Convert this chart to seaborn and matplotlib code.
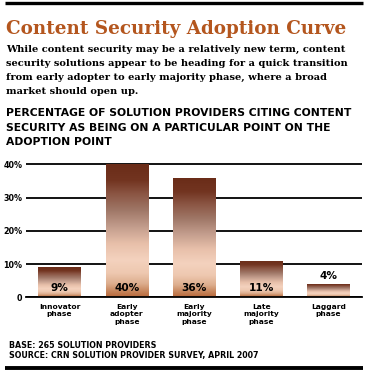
import matplotlib
matplotlib.use("Agg")
import matplotlib.pyplot as plt
import seaborn as sns
import numpy as np
import pandas as pd
from matplotlib.colors import LinearSegmentedColormap
from matplotlib.lines import Line2D

# ---- data ----
categories = ["Innovator\nphase", "Early\nadopter\nphase", "Early\nmajority\nphase",
              "Late\nmajority\nphase", "Laggard\nphase"]
values = [9, 40, 36, 11, 4]
value_labels = ["9%", "40%", "36%", "11%", "4%"]
ytick_values = [0, 10, 20, 30, 40]
ytick_labels = ["0", "10%", "20%", "30%", "40%"]

title = "Content Security Adoption Curve"
subtitle_lines = [
    "While content security may be a relatively new term, content",
    "security solutions appear to be heading for a quick transition",
    "from early adopter to early majority phase, where a broad",
    "market should open up.",
]
chart_title_lines = [
    "PERCENTAGE OF SOLUTION PROVIDERS CITING CONTENT",
    "SECURITY AS BEING ON A PARTICULAR POINT ON THE",
    "ADOPTION POINT",
]
footer_lines = [
    "BASE: 265 SOLUTION PROVIDERS",
    "SOURCE: CRN SOLUTION PROVIDER SURVEY, APRIL 2007",
]

df = pd.DataFrame({"phase": categories, "pct": values})

W, H = 378, 377
sns.set_theme(style="white")
plt.rcParams["font.family"] = ["DejaVu Sans"]

fig = plt.figure(figsize=(W / 100, H / 100), dpi=100)
fig.patch.set_facecolor("white")


def fx(px):
    return px / W


def fy(py):
    return 1 - py / H


renderer = fig.canvas.get_renderer()


def measure(s, **kw):
    t = fig.text(0, 0, s, fontsize=10, **kw)
    w = t.get_window_extent(renderer=renderer).width
    t.remove()
    return w


# rules
fig.add_artist(Line2D([fx(5), fx(362.5)], [fy(3.3), fy(3.3)], color="black", lw=2.4,
                      transform=fig.transFigure, solid_capstyle="butt"))
fig.add_artist(Line2D([fx(5), fx(362.5)], [fy(367.5), fy(367.5)], color="black", lw=2.8,
                      transform=fig.transFigure, solid_capstyle="butt"))

# title
serif = ["DejaVu Serif"]
tfs = 10 * 340 / measure(title, fontweight="heavy", family=serif)
fig.text(fx(6.5), fy(34.3), title, va="baseline", ha="left", fontsize=tfs,
         fontweight="heavy", family=serif, color="#B4561E")

# subtitle
sub_fs = 10 * 342 / measure(subtitle_lines[1], fontweight="bold", family=serif)
for s, b in zip(subtitle_lines, [51.5, 65.5, 79.5, 93.5]):
    fig.text(fx(6.5), fy(b), s, va="baseline", ha="left", fontsize=sub_fs,
             fontweight="bold", family=serif, color="black")

# chart title
ct_fs = 10 * 345 / measure(chart_title_lines[0], fontweight="bold")
for s, b in zip(chart_title_lines, [116, 130.7, 145.3]):
    fig.text(fx(6.5), fy(b), s, va="baseline", ha="left", fontsize=ct_fs,
             fontweight="bold", color="black")

# footer
ft_fs = 10 * 248 / measure(footer_lines[1], fontweight="bold")
for s, b in zip(footer_lines, [347.7, 357.7]):
    fig.text(fx(9), fy(b), s, va="baseline", ha="left", fontsize=ft_fs,
             fontweight="bold", color="black")

# axes
y_top = 40.5
ppu = 133 / 40.0
top_px = 297.3 - y_top * ppu
ax = fig.add_axes([fx(26), fy(297.3), fx(362) - fx(26), (297.3 - top_px) / H])
ax.set_facecolor("white")

sns.barplot(data=df, x="phase", y="pct", ax=ax, color="#B07050", width=0.63,
            saturation=1, zorder=3)

stops = [
    (0.00, "#B96A3C"),
    (0.04, "#C6845A"),
    (0.10, "#DDAE8E"),
    (0.18, "#EEC8B0"),
    (0.28, "#F4D2BE"),
    (0.40, "#E8C0AA"),
    (0.53, "#C29C8C"),
    (0.65, "#A07868"),
    (0.78, "#8A5442"),
    (0.88, "#723420"),
    (1.00, "#6A2C18"),
]
cmap = LinearSegmentedColormap.from_list("bar", stops)
grad = np.linspace(0, 1, 256).reshape(-1, 1)
for p in ax.patches:
    x0, y0 = p.get_x(), p.get_y()
    w, h = p.get_width(), p.get_height()
    p.set_facecolor("none")
    p.set_edgecolor("none")
    im = ax.imshow(grad, cmap=cmap, origin="lower", aspect="auto",
                   extent=[x0, x0 + w, y0, y0 + h], zorder=3, interpolation="bilinear")
    im.set_clip_path(p)
ax.set_xlim(-0.5, len(categories) - 0.5)
ax.set_ylim(0, y_top)

for i, (v, lab) in enumerate(zip(values, value_labels)):
    ypos = 2.8 if v >= 8 else v + 2.4
    ax.text(i, ypos, lab, ha="center", va="center", fontsize=7.6,
            fontweight="bold", color="black", zorder=5)

ax.set_yticks(ytick_values)
ax.set_yticklabels(ytick_labels, fontsize=5.8, fontweight="bold")
ax.set_xticks(range(len(categories)))
ax.set_xticklabels(categories, fontsize=5.4, fontweight="bold", linespacing=1.3)
ax.tick_params(axis="y", length=0, pad=2.5, colors="black")
ax.tick_params(axis="x", length=0, pad=4.5, colors="black")
ax.set_xlabel("")
ax.set_ylabel("")
for s in ["top", "right", "left"]:
    ax.spines[s].set_visible(False)
ax.spines["bottom"].set_color("black")
ax.spines["bottom"].set_linewidth(1.3)
ax.spines["bottom"].set_zorder(4)
ax.yaxis.grid(True, color="black", lw=1.3, zorder=1)
ax.xaxis.grid(False)
ax.set_axisbelow(True)

fig.savefig("out.png", dpi=100, facecolor="white")
